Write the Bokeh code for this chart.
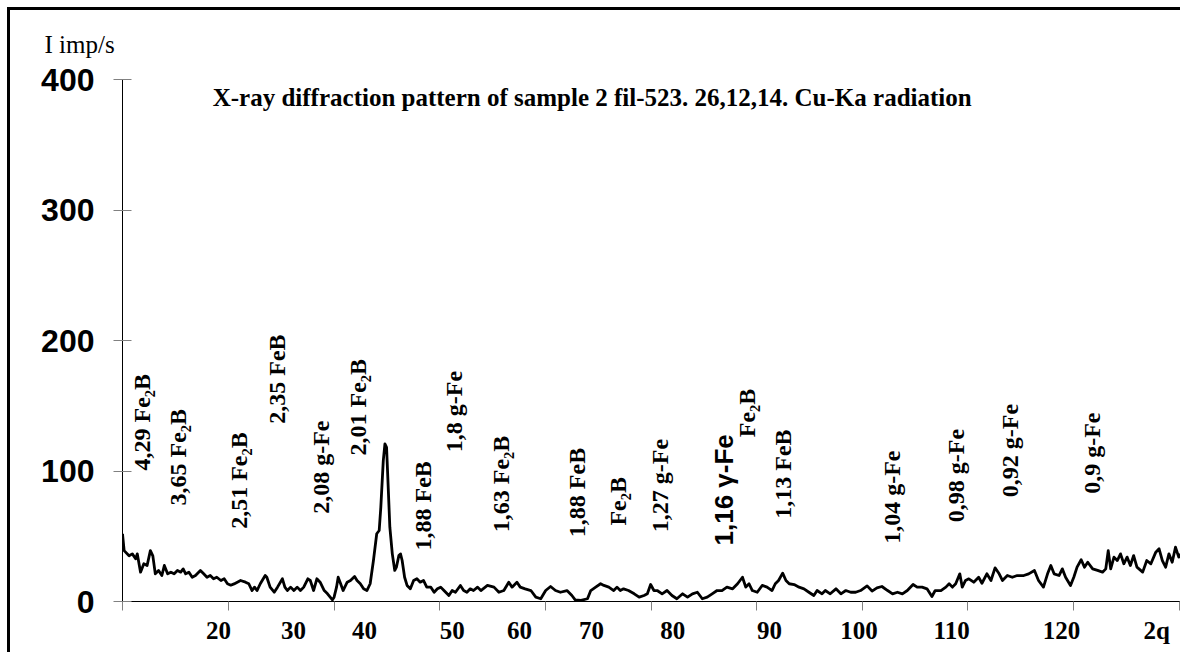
from math import pi
from bokeh.plotting import figure
from bokeh.models import Range1d, FixedTicker, ColumnDataSource, Label
from bokeh.core.properties import value
from bokeh.embed import file_html
from bokeh.resources import INLINE

# ---- data ----
TWO_THETA = [7.5,7.7,8.3,8.7,9.1,9.3,9.7,10.1,10.5,10.9,11.2,11.5,11.9,12.3,12.6,13.0,13.4,13.8,14.2,14.6,
             14.9,15.2,15.6,16.0,16.4,17.0,17.4,17.8,18.2,18.6,19.0,19.5,19.9,20.3,20.7,21.1,21.5,21.9,22.5,22.9,
             23.3,23.6,23.9,24.3,24.9,25.1,25.5,26.0,26.4,27.0,27.3,27.6,28.0,28.4,28.8,29.2,29.6,30.1,30.4,30.8,
             31.2,31.6,32.1,32.5,33.1,33.3,33.6,33.8,34.1,34.4,34.9,35.3,35.8,36.1,36.5,36.9,37.3,37.7,38.1,38.5,
             38.8,39.0,39.3,39.5,39.7,39.9,40.1,40.4,40.7,40.9,41.2,41.4,41.6,41.9,42.2,42.6,43.0,43.4,43.8,44.2,
             44.6,45.1,45.5,45.9,46.3,46.7,47.3,47.7,48.1,48.7,49.1,49.5,49.9,50.3,50.8,51.2,52.0,52.8,53.4,54.0,
             54.6,55.0,55.6,56.0,56.6,57.3,57.9,58.5,59.1,59.7,60.3,60.9,61.7,62.3,62.7,63.4,64.2,64.6,65.2,65.8,
             66.2,66.8,67.4,67.8,68.2,68.6,69.2,69.9,70.5,71.1,71.5,71.9,72.3,72.7,73.3,73.9,74.5,75.1,75.8,76.4,
             77.0,77.6,78.2,78.8,79.4,80.0,80.6,81.2,81.9,82.5,83.1,83.5,83.9,84.3,84.9,85.5,86.1,86.7,87.1,87.5,
             88.0,88.4,88.8,89.4,90.0,90.6,91.2,91.8,92.2,92.8,93.2,93.8,94.5,95.1,95.7,96.3,96.9,97.5,98.3,98.9,
             99.5,100.1,100.8,101.4,102.0,102.6,103.2,103.9,104.4,105.0,105.6,106.2,106.6,107.3,107.9,108.3,108.7,109.1,109.6,109.9,
             110.3,110.7,111.3,111.9,112.3,112.9,113.4,113.9,114.4,114.8,115.4,116.0,116.6,117.4,118.0,118.7,119.2,119.8,120.3,120.7,
             121.1,121.7,122.1,122.5,123.1,123.5,123.9,124.4,124.8,125.2,125.8,126.4,127.0,127.4,127.7,128.0,128.4,128.8,129.2,129.6,
             130.0,130.4,130.8,131.2,131.9,132.4,132.9,133.5,133.9,134.3,134.7,135.1,135.5,135.9,136.3,136.5]
INTENSITY = [51.9,39,35,36.5,32.7,36.5,22.5,28.9,27.6,39,
             35,21.2,23.8,19.9,27.6,21.2,22.5,21.2,23.8,22.5,
             25,21.2,22.5,18.6,19.9,23.8,21.2,18.6,19.9,17.4,
             18.6,16.1,17.4,13.6,12.5,13.5,14.8,16.1,14.8,13.6,
             8.4,11,8.4,13.6,19.9,18.6,11,7.1,11,17.4,
             11,8.4,11,8.4,11,8.4,11,17.4,16.1,8.4,
             17.4,14.8,8.4,5.9,1.3,3.3,11,18.6,13.6,8.4,
             14.8,16.1,19.2,16.1,13.6,9.7,8.4,13.6,31.4,51.9,
             54.4,72.3,108,120.8,118.2,87.6,56.9,36.5,23.8,26.3,
             35.2,36.5,31.4,18.6,12.3,9.7,16.1,17.4,14.8,16.1,
             11,11,7.1,9.7,11,8.4,4.6,8.4,7.1,12.3,
             8.4,7.1,9.7,8.4,11,8.4,12.3,11,7.1,8.4,
             14.8,11,14.8,11,9.7,8.4,3.3,2.1,8.4,11.5,
             8.4,7.1,8.4,4.6,1.3,0.8,2.1,8.4,11,13.6,
             12.3,11,8.4,11,8.4,9.7,8.4,5.9,3.3,4.6,
             5.9,13,8.4,8.4,5.9,8.4,4.6,2.1,5.9,3.3,
             5.9,7.1,2.1,3.3,5.9,8.4,8.4,11,9.7,13.6,
             18.6,11,13.6,8.4,7.1,12.3,11,8.4,13.6,16.1,
             21.7,16.1,13.6,13,11,9.7,7.1,4.6,8.4,5.9,
             8.4,5.9,9.7,5.9,8.4,7.1,7.1,8.4,12,8,
             10.5,11.5,8.4,5.9,7.1,5.9,8.4,13,11,11,
             9.7,3.8,8.4,8.4,11,13.6,11,13.6,21.2,11,
             16.1,17.4,14.8,18.6,14,21.2,16.1,25.8,21.2,16.1,
             19.9,18.6,19.9,19.9,21.2,23.8,16.1,11,21.2,27.6,
             21.2,19.9,25,18.6,12.3,18.6,26.3,32,26.3,30.1,
             25,23.8,22.5,25,39,25,34,31.4,36.5,28.9,
             34,27.6,35.2,26.3,22.5,31.4,28.9,37.8,40.4,31.4,
             26.3,36.5,30.1,41.6,34,36.5]

Y_TICKS = [0, 100, 200, 300, 400]
X_TICK_MARKS = [7.5, 20.4, 33.3, 46.2, 59.1, 72.0, 84.8, 97.7, 110.6, 123.5, 136.4]
X_TICK_LABELS = ["20", "30", "40", "50", "60", "70", "80", "90", "100", "110", "120", "2q"]
X_TICK_LABEL_POS = [19.2, 28.35, 37.0, 47.7, 55.9, 64.7, 74.6, 86.4, 97.3, 108.6, 122.0, 133.6]

PEAK_TEXT = ["4,29 Fe\u2082B", "3,65 Fe\u2082B", "2,51 Fe\u2082B", "2,35 FeB", "2,08 g-Fe",
             "2,01 Fe\u2082B", "1,88 FeB", "1,8 g-Fe", "1,63 Fe\u2082B", "1,88 FeB", "Fe\u2082B",
             "1,27 g-Fe", "Fe\u2082B", "1,13 FeB", "1,04 g-Fe", "0,98 g-Fe", "0,92 g-Fe", "0,9 g-Fe"]
PEAK_X = [9.9, 14.3, 21.65, 26.3, 31.65, 36.2, 44.1, 47.9, 53.6, 62.9, 67.9,
          73.0, 83.6, 88.1, 101.3, 109.1, 115.7, 125.7]
PEAK_Y = [100.4, 73.6, 55.7, 136.2, 67.2, 111.9, 39.1, 114.4, 53.1, 49.3, 58.2,
          53.1, 125.9, 63.4, 44.2, 60.8, 79.9, 82.5]
GAMMA_TEXT = ["1,16 \u03b3-Fe"]
GAMMA_X = [80.9]
GAMMA_Y = [42.9]

TITLE = "X-ray diffraction pattern of sample 2 fil-523. 26,12,14. Cu-Ka radiation"
Y_LABEL = "I imp/s"

# ---- figure ----
p = figure(width=1174, height=645, x_range=Range1d(7.5, 137.0), y_range=Range1d(0, 400),
           output_backend="svg", toolbar_location=None,
           min_border_left=112, min_border_right=0, min_border_top=69, min_border_bottom=54)
p.styles = {"margin-left": "10px", "margin-top": "10px",
            "box-shadow": "-3px -3px 0px 0px black"}
p.outline_line_color = None
p.grid.visible = False
p.background_fill_color = "white"
p.border_fill_color = "white"

p.title.text = Y_LABEL
p.title.align = "left"
p.title.vertical_align = "top"
p.title.offset = -78
p.title.standoff = 40
p.title.text_font = "Liberation Serif"
p.title.text_font_style = "normal"
p.title.text_font_size = "25px"
p.title.text_color = "black"

p.yaxis.ticker = FixedTicker(ticks=Y_TICKS)
p.yaxis.minor_tick_line_color = None
p.yaxis.major_tick_in = 9
p.yaxis.major_tick_out = 9
p.yaxis.major_tick_line_color = "#808080"
p.yaxis.axis_line_color = "black"
p.yaxis.major_label_text_font = "Liberation Sans"
p.yaxis.major_label_text_font_style = "bold"
p.yaxis.major_label_text_font_size = "32px"
p.yaxis.major_label_text_color = "black"
p.yaxis.major_label_standoff = 19

p.xaxis.ticker = FixedTicker(ticks=X_TICK_LABEL_POS, minor_ticks=X_TICK_MARKS)
p.xaxis.major_label_overrides = {pos: lab for pos, lab in zip(X_TICK_LABEL_POS, X_TICK_LABELS)}
p.xaxis.major_tick_line_color = None
p.xaxis.major_tick_in = 0
p.xaxis.major_tick_out = 0
p.xaxis.minor_tick_in = 0
p.xaxis.minor_tick_out = 9
p.xaxis.minor_tick_line_color = "#808080"
p.xaxis.axis_line_color = "black"
p.xaxis.major_label_text_font = "Liberation Serif"
p.xaxis.major_label_text_font_style = "bold"
p.xaxis.major_label_text_font_size = "25px"
p.xaxis.major_label_text_color = "black"
p.xaxis.major_label_standoff = 6

p.line(TWO_THETA, INTENSITY, line_color="black", line_width=2.8, line_join="round")

src = ColumnDataSource(dict(x=PEAK_X, y=PEAK_Y, text=PEAK_TEXT))
p.text(x="x", y="y", text="text", source=src, angle=pi / 2, text_align="left",
       text_baseline="middle", text_font=value("Liberation Serif"), text_font_style="bold",
       text_font_size="24px", text_color="black")
gsrc = ColumnDataSource(dict(x=GAMMA_X, y=GAMMA_Y, text=GAMMA_TEXT))
p.text(x="x", y="y", text="text", source=gsrc, angle=pi / 2, text_align="left",
       text_baseline="middle", text_font=value("Liberation Sans"), text_font_style="bold",
       text_font_size="26px", text_color="black")

p.add_layout(Label(x=18.5, y=386.2, text=TITLE, text_align="left", text_baseline="middle",
                   text_font="Liberation Serif", text_font_style="bold", text_font_size="25px",
                   text_color="black"))

open("out.html", "w").write(file_html(p, INLINE))
